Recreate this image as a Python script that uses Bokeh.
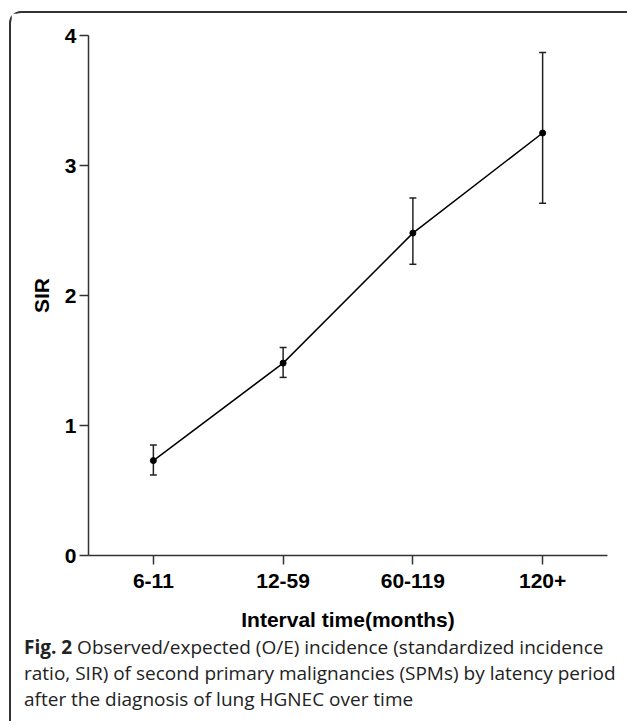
from bokeh.plotting import figure
from bokeh.models import ColumnDataSource, Whisker, TeeHead, Div, FixedTicker
from bokeh.layouts import column
from bokeh.embed import file_html
from bokeh.resources import INLINE

categories = ["6-11", "12-59", "60-119", "120+"]
sir = [0.73, 1.48, 2.48, 3.25]
lower = [0.62, 1.37, 2.24, 2.71]
upper = [0.85, 1.60, 2.75, 3.87]
y_ticks = [0, 1, 2, 3, 4]
x_title = "Interval time(months)"
y_title = "SIR"
caption_bold = "Fig. 2"
caption_lines = [
    "Observed/expected (O/E) incidence (standardized incidence",
    "ratio, SIR) of second primary malignancies (SPMs) by latency period",
    "after the diagnosis of lung HGNEC over time",
]

src = ColumnDataSource(dict(x=categories, y=sir, lower=lower, upper=upper))

p = figure(x_range=categories, y_range=(0, 4), width=608, height=624,
           output_backend="svg", toolbar_location=None,
           min_border_left=77, min_border_right=12, min_border_top=22, min_border_bottom=82)
p.x_range.range_padding = 0
p.grid.visible = False
p.outline_line_color = None
p.background_fill_color = "white"
p.border_fill_color = "white"

axis_color = "#333333"
for ax in (p.xaxis[0], p.yaxis[0]):
    ax.axis_line_color = axis_color
    ax.axis_line_width = 1.5
    ax.major_tick_line_color = axis_color
    ax.major_tick_line_width = 1.5
    ax.major_tick_out = 9
    ax.major_tick_in = 0
    ax.minor_tick_line_color = None
    ax.major_label_text_font = "Liberation Sans"
    ax.major_label_text_font_style = "bold"
    ax.major_label_text_font_size = "21px"
    ax.major_label_text_color = "black"
    ax.axis_label_text_font = "Liberation Sans"
    ax.axis_label_text_font_style = "bold"
    ax.axis_label_text_color = "black"

p.yaxis.ticker = FixedTicker(ticks=y_ticks)
p.yaxis.major_label_standoff = 3
p.yaxis.axis_label = y_title
p.yaxis.axis_label_text_font_size = "21px"
p.yaxis.axis_label_standoff = 9

p.xaxis.axis_label = x_title
p.xaxis.axis_label_text_font_size = "21px"
p.xaxis.major_label_standoff = 9
p.xaxis.axis_label_standoff = 17

whisker = Whisker(base="x", upper="upper", lower="lower", source=src,
                  line_color="#222222", line_width=1.5,
                  upper_head=TeeHead(size=7, line_color="#222222", line_width=1.5),
                  lower_head=TeeHead(size=7, line_color="#222222", line_width=1.5))
p.add_layout(whisker)
p.line("x", "y", source=src, line_color="black", line_width=1.5)
p.scatter("x", "y", source=src, size=6, fill_color="black", line_color="black")

html = ('<div style="position:relative; top:-8px;"><b>' + caption_bold + "</b> "
        + "<br>".join(caption_lines) + "</div>")
div = Div(text=html, width=606, height=74,
          styles={"font-family": "Open Sans", "font-size": "19px", "line-height": "26px",
                  "color": "#222222", "padding-left": "8px", "white-space": "nowrap"})

layout = column(p, div, margin=(11, 0, 0, 9), spacing=0,
                styles={"border-top": "2px solid #333333", "border-left": "2px solid #333333",
                        "border-top-left-radius": "12px"})

open("out.html", "w").write(file_html(layout, INLINE))
